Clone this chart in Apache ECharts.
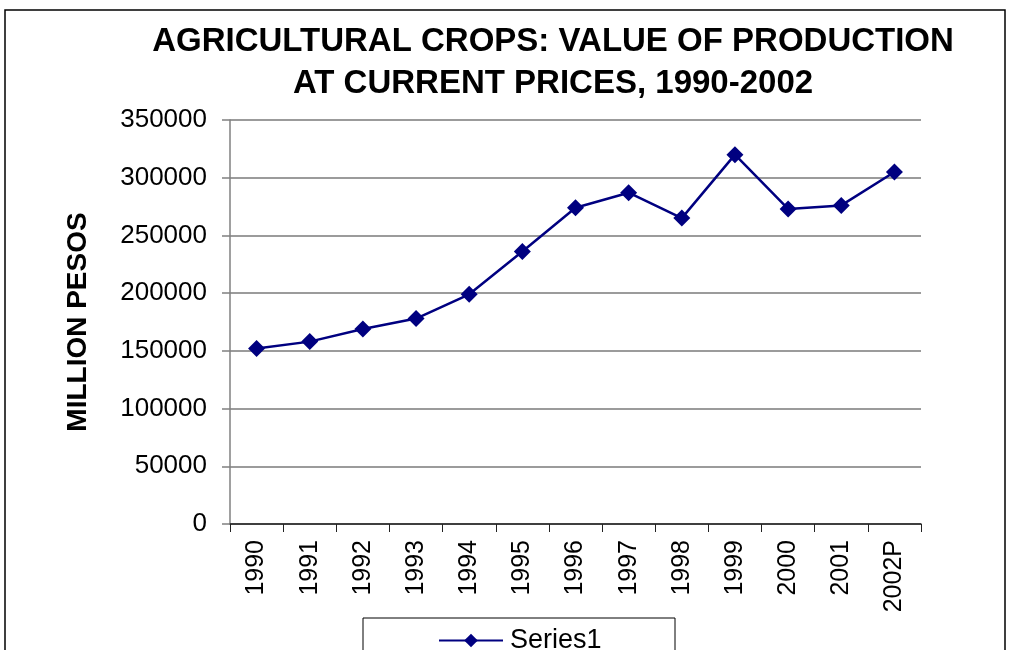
<!DOCTYPE html>
<html>
<head>
<meta charset="utf-8">
<script src="https://cdn.jsdelivr.net/npm/echarts@6/dist/echarts.min.js"></script>
<style>
  html, body { margin: 0; padding: 0; background: #fff; }
  #chart { width: 1010px; height: 650px; }
</style>
</head>
<body>
<div id="chart"></div>
<script>
  // values (million pesos)
  const years = ['1990', '1991', '1992', '1993', '1994', '1995', '1996', '1997', '1998', '1999', '2000', '2001', '2002P'];
  const values = [152000, 158000, 169000, 178000, 199000, 236000, 274000, 287000, 265000, 320000, 273000, 276000, 305000];
  const yTicks = [0, 50000, 100000, 150000, 200000, 250000, 300000, 350000];

  let myChart = echarts.init(document.getElementById('chart'));
  let font = 'Liberation Sans, Arial, sans-serif';
  let option = {
    backgroundColor: '#fff',
    animation: false,
    title: {
      text: 'AGRICULTURAL CROPS: VALUE OF PRODUCTION\nAT CURRENT PRICES, 1990-2002',
      left: 548,
      top: 16,
      textAlign: 'center',
      textStyle: { fontFamily: font, fontSize: 33, fontWeight: 'bold', color: '#000', lineHeight: 42 }
    },
    graphic: [
      { // outer frame
        type: 'rect',
        shape: { x: 5, y: 10, width: 1000, height: 700 },
        style: { fill: 'none', stroke: '#000', lineWidth: 1.5 },
        silent: true
      },
      { // legend box
        type: 'rect',
        shape: { x: 363, y: 618, width: 312, height: 60 },
        style: { fill: '#fff', stroke: '#000', lineWidth: 1 },
        z: 1,
        silent: true
      }
    ],
    legend: {
      data: ['Series1'],
      left: 433,
      top: 622,
      itemWidth: 64,
      itemHeight: 17,
      itemGap: 4,
      z: 5,
      textStyle: { fontFamily: font, fontSize: 27, color: '#000', padding: [0, 0, 0, 2] }
    },
    grid: { left: 230, right: 89, top: 120, bottom: 126 },
    xAxis: {
      type: 'category',
      data: years,
      boundaryGap: true,
      axisLine: { lineStyle: { color: '#222', width: 1.5 } },
      axisTick: { show: true, length: 8, lineStyle: { color: '#222' } },
      axisLabel: { rotate: 90, margin: 16, fontFamily: font, fontSize: 25, color: '#000' }
    },
    yAxis: {
      type: 'value',
      min: yTicks[0],
      max: yTicks[yTicks.length - 1],
      interval: 50000,
      name: 'MILLION PESOS',
      nameLocation: 'middle',
      nameGap: 138,
      nameTextStyle: { fontFamily: font, fontSize: 28, fontWeight: 'bold', color: '#000' },
      axisLine: { show: true, lineStyle: { color: '#808080', width: 1.5 } },
      axisTick: { show: true, length: 8, lineStyle: { color: '#808080', width: 1.5 } },
      axisLabel: {
        margin: 23, fontFamily: font, fontSize: 26, color: '#000',
        formatter: function (v) { return String(v); }
      },
      splitLine: { show: true, lineStyle: { color: '#7a7a7a', width: 1.5 } }
    },
    series: [
      {
        name: 'Series1',
        type: 'line',
        data: values,
        symbol: 'diamond',
        symbolSize: 17,
        lineStyle: { color: '#000080', width: 2.5 },
        itemStyle: { color: '#000080' }
      }
    ]
  };
  myChart.setOption(option);
</script>
</body>
</html>
